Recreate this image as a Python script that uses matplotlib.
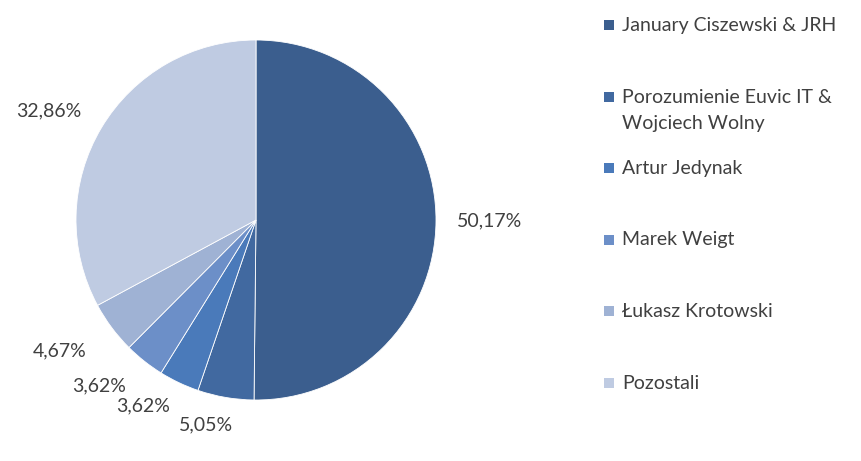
import numpy as np
import matplotlib
matplotlib.use("Agg")
import matplotlib.pyplot as plt
from matplotlib.patches import Rectangle

names = ["January Ciszewski & JRH", "Porozumienie Euvic IT &\nWojciech Wolny",
         "Artur Jedynak", "Marek Weigt", "Łukasz Krotowski", "Pozostali"]
shares = [50.17, 5.05, 3.62, 3.62, 4.67, 32.86]
pct_labels = ["50,17%", "5,05%", "3,62%", "3,62%", "4,67%", "32,86%"]
colors = ["#3b5e8e", "#4169a0", "#4a7aba", "#6c8fc8", "#9fb2d4", "#bfcbe2"]

# label placement style (distance factor, angular nudge in degrees)
label_dist = [1.30, 1.17, 1.21, 1.27, 1.31, 1.30]
label_nudge = [0, -4, -6, -5, -3, 3]

plt.rcParams['font.family'] = ['Lato', 'DejaVu Sans']
txt_color = "#404040"
fs = 14

fig = plt.figure(figsize=(8.61, 4.61), dpi=100)
W, H = 861, 461
cx, cy, r = 256, 220, 180
ax = fig.add_axes([(cx - r) / W, (H - cy - r) / H, 2 * r / W, 2 * r / H])
wedges, _ = ax.pie(shares, colors=colors, startangle=90, counterclock=False,
                   wedgeprops=dict(edgecolor="white", linewidth=0.6))
ax.set_xlim(-1, 1)
ax.set_ylim(-1, 1)
ax.set_aspect("equal")
ax.axis("off")

for w, lab, d, nd in zip(wedges, pct_labels, label_dist, label_nudge):
    ang = np.deg2rad((w.theta1 + w.theta2) / 2 + nd)
    ax.text(d * np.cos(ang), d * np.sin(ang), lab, ha="center", va="center",
            fontsize=fs, color=txt_color, clip_on=False)

# legend
ys = np.linspace(25, 383, len(names))
for name, col, y in zip(names, colors, ys):
    fig.patches.append(Rectangle((604 / W, (H - y - 5) / H), 10 / W, 10 / H,
                                 transform=fig.transFigure, facecolor=col,
                                 edgecolor="none"))
    multi = "\n" in name
    ty = (H - y + (8 if multi else 0)) / H
    fig.text(622 / W, ty, name, ha="left", va="top" if multi else "center",
             fontsize=fs, color=txt_color, linespacing=1.7)

fig.savefig("out.png", dpi=100, facecolor="white")
